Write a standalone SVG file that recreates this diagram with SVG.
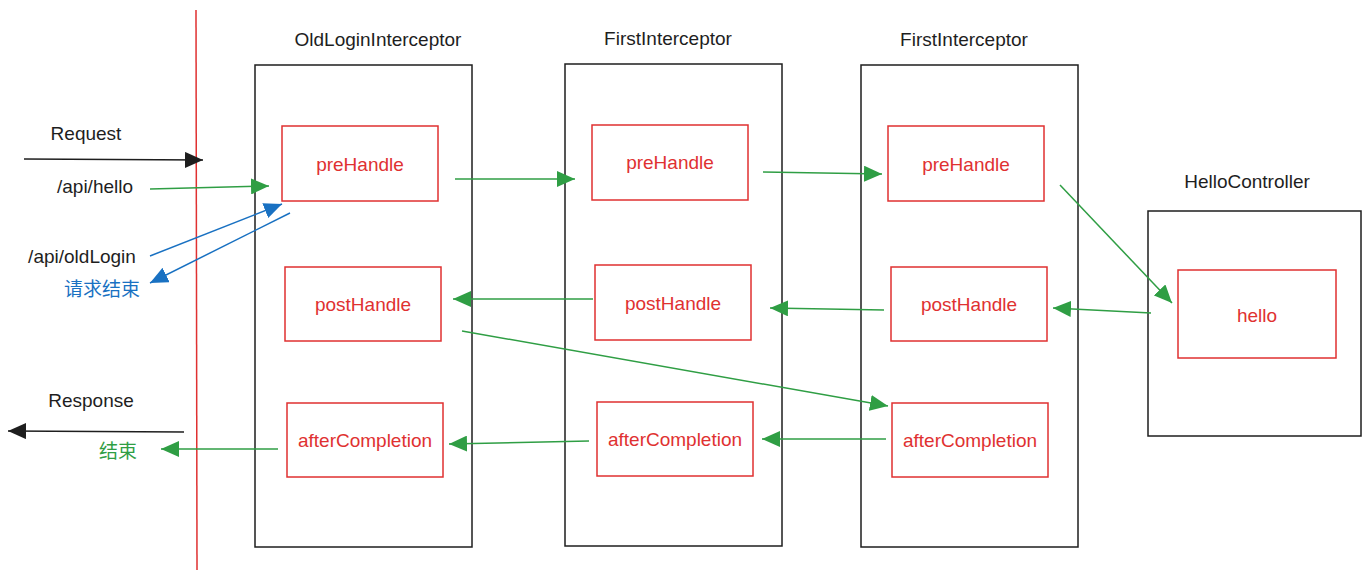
<svg xmlns="http://www.w3.org/2000/svg" width="1371" height="579" viewBox="0 0 1371 579">
<style>
.col{fill:none;stroke:#1e1e1e;stroke-width:1.5}
.box{fill:none;stroke:#e03131;stroke-width:1.5}
.lbl{font-family:"Liberation Sans",Arial,sans-serif;font-size:19px;fill:#e03131;text-anchor:middle}
.ttl{font-family:"Liberation Sans",Arial,sans-serif;font-size:19px;fill:#1e1e1e;text-anchor:middle}
.g{stroke:#2f9e44;stroke-width:1.5;fill:none;marker-end:url(#ag)}
.b{stroke:#1971c2;stroke-width:1.5;fill:none;marker-end:url(#ab)}
.k{stroke:#1e1e1e;stroke-width:1.5;fill:none;marker-end:url(#ak)}
</style>
<defs>
<marker id="ag" markerUnits="userSpaceOnUse" markerWidth="20" markerHeight="16" viewBox="0 0 20 16" refX="18" refY="8" orient="auto"><path d="M0,0 L18,8 L0,16 Z" fill="#2f9e44"/></marker>
<marker id="ab" markerUnits="userSpaceOnUse" markerWidth="20" markerHeight="16" viewBox="0 0 20 16" refX="18" refY="8" orient="auto"><path d="M0,0 L18,8 L0,16 Z" fill="#1971c2"/></marker>
<marker id="ak" markerUnits="userSpaceOnUse" markerWidth="20" markerHeight="16" viewBox="0 0 20 16" refX="18" refY="8" orient="auto"><path d="M0,0 L18,8 L0,16 Z" fill="#1e1e1e"/></marker>
</defs>
<rect width="1371" height="579" fill="#ffffff"/>
<line x1="196" y1="10" x2="197" y2="570" stroke="#e03131" stroke-width="1.5"/>

<g id="oldLogin">
<rect class="col" x="255" y="65" width="217" height="482"/>
<text class="ttl" x="378" y="46">OldLoginInterceptor</text>
</g>
<g id="first1">
<rect class="col" x="565" y="64" width="217" height="482"/>
<text class="ttl" x="668" y="45">FirstInterceptor</text>
</g>
<g id="first2">
<rect class="col" x="861" y="65" width="217" height="482"/>
<text class="ttl" x="964" y="46">FirstInterceptor</text>
</g>
<g id="helloController">
<rect class="col" x="1148" y="211" width="213" height="225"/>
<text class="ttl" x="1247" y="188">HelloController</text>
</g>

<g id="pre1"><rect class="box" x="282" y="126" width="156" height="75"/><text class="lbl" x="360" y="171">preHandle</text></g>
<g id="post1"><rect class="box" x="285" y="267" width="156" height="74"/><text class="lbl" x="363" y="311">postHandle</text></g>
<g id="after1"><rect class="box" x="287" y="403" width="156" height="74"/><text class="lbl" x="365" y="447">afterCompletion</text></g>
<g id="pre2"><rect class="box" x="592" y="125" width="156" height="75"/><text class="lbl" x="670" y="169">preHandle</text></g>
<g id="post2"><rect class="box" x="595" y="265" width="156" height="75"/><text class="lbl" x="673" y="310">postHandle</text></g>
<g id="after2"><rect class="box" x="597" y="402" width="156" height="74"/><text class="lbl" x="675" y="446">afterCompletion</text></g>
<g id="pre3"><rect class="box" x="888" y="126" width="156" height="75"/><text class="lbl" x="966" y="171">preHandle</text></g>
<g id="post3"><rect class="box" x="891" y="267" width="156" height="74"/><text class="lbl" x="969" y="311">postHandle</text></g>
<g id="after3"><rect class="box" x="892" y="403" width="156" height="74"/><text class="lbl" x="970" y="447">afterCompletion</text></g>
<g id="hello"><rect class="box" x="1178" y="270" width="158" height="88"/><text class="lbl" x="1257" y="322">hello</text></g>

<g id="labels" font-family="'Liberation Sans','Noto Sans CJK SC',sans-serif" font-size="19" text-anchor="middle">
<text x="86" y="140" fill="#1e1e1e">Request</text>
<text x="95" y="193" fill="#1e1e1e">/api/hello</text>
<text x="82" y="263" fill="#1e1e1e">/api/oldLogin</text>
<text x="102" y="296" fill="#1971c2">请求结束</text>
<text x="91" y="407" fill="#1e1e1e">Response</text>
<text x="118" y="458" fill="#2f9e44">结束</text>
</g>

<g id="connectors">
<line class="k" x1="24" y1="159" x2="203" y2="160"/>
<line class="k" x1="184" y1="432" x2="8" y2="431"/>
<line class="g" x1="150" y1="189" x2="269" y2="186"/>
<line class="b" x1="150" y1="256" x2="282" y2="204"/>
<line class="b" x1="290" y1="213" x2="150" y2="283"/>
<line class="g" x1="278" y1="449" x2="161" y2="449"/>
<line class="g" x1="455" y1="179" x2="575" y2="179"/>
<line class="g" x1="763" y1="172" x2="882" y2="174"/>
<line class="g" x1="1060" y1="185" x2="1172" y2="303"/>
<line class="g" x1="1151" y1="313" x2="1053" y2="308"/>
<line class="g" x1="884" y1="310" x2="770" y2="308"/>
<line class="g" x1="593" y1="299" x2="453" y2="299"/>
<line class="g" x1="462" y1="331" x2="888" y2="406"/>
<line class="g" x1="886" y1="439" x2="762" y2="439"/>
<line class="g" x1="589" y1="441" x2="449" y2="444"/>
</g>
</svg>
